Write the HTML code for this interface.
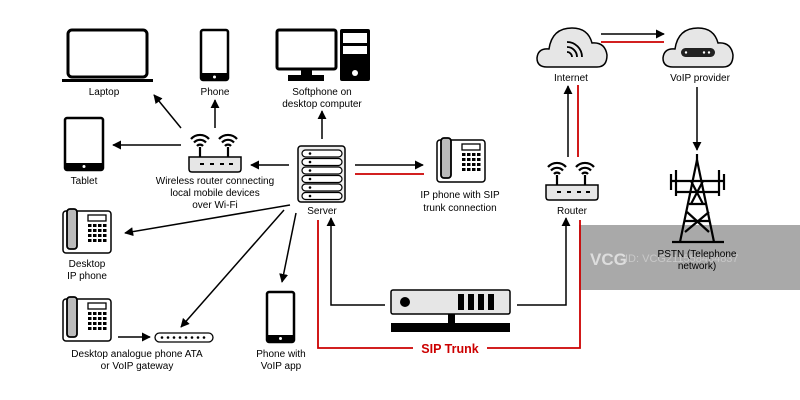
<!DOCTYPE html>
<html><head><meta charset="utf-8"><style>
html,body{margin:0;padding:0;background:#fff;}
svg{display:block;font-family:"Liberation Sans",Arial,sans-serif;}
</style></head><body>
<svg width="800" height="400" viewBox="0 0 800 400" xmlns="http://www.w3.org/2000/svg">
<defs>
<marker id="ah" viewBox="0 0 10 10" refX="9" refY="5" markerWidth="6" markerHeight="6" orient="auto"><path d="M0,0 L10,5 L0,10 z" fill="#000"/></marker>
<g id="deskphone">
<rect x="1" y="1" width="48" height="42" rx="3" fill="#fff" stroke="#000" stroke-width="1.5"/>
<rect x="5" y="-1" width="10" height="40" rx="3" fill="#bbb" stroke="#000" stroke-width="1.8"/>
<rect x="26" y="5" width="18" height="6" fill="#fff" stroke="#000" stroke-width="1.3"/>
<g fill="#000">
<rect x="26" y="14" width="3.5" height="3"/><rect x="31" y="14" width="3.5" height="3"/><rect x="36" y="14" width="3.5" height="3"/><rect x="41" y="14" width="3.5" height="3"/>
<rect x="26" y="19" width="3.5" height="3"/><rect x="31" y="19" width="3.5" height="3"/><rect x="36" y="19" width="3.5" height="3"/><rect x="41" y="19" width="3.5" height="3"/>
<rect x="26" y="24" width="3.5" height="3"/><rect x="31" y="24" width="3.5" height="3"/><rect x="36" y="24" width="3.5" height="3"/><rect x="41" y="24" width="3.5" height="3"/>
<rect x="26" y="29" width="3.5" height="3"/><rect x="31" y="29" width="3.5" height="3"/><rect x="36" y="29" width="3.5" height="3"/><rect x="41" y="29" width="3.5" height="3"/>
</g>
</g>
<g id="wifi" fill="none" stroke="#000" stroke-width="2.2">
<path d="M-9,-4 A12,12 0 0 1 9,-4"/><path d="M-6,-0.5 A8,8 0 0 1 6,-0.5"/><path d="M-3,3 A4,4 0 0 1 3,3"/>
<line x1="0" y1="4" x2="0" y2="14"/>
</g>
<g id="router">
<use href="#wifi" x="12" y="0"/><use href="#wifi" x="40" y="0"/>
<path d="M1,14 H53 V26 Q53,29 50,29 H4 Q1,29 1,26 Z" fill="#e6e6e6" stroke="#000" stroke-width="1.5"/>
<g stroke="#000" stroke-width="2"><line x1="12" y1="21" x2="16" y2="21"/><line x1="22" y1="21" x2="26" y2="21"/><line x1="32" y1="21" x2="36" y2="21"/><line x1="41" y1="21" x2="45" y2="21"/></g>
</g>
<path id="cloud" d="M10,39 Q0,39 0,30 Q1,20 12,21 Q15,0 35,0 Q51,0 55,15 Q68,14 70,27 Q70,39 60,39 Z" fill="#e6e6e6" stroke="#000" stroke-width="1.5"/>
</defs>

<!-- watermark band -->
<rect x="579" y="225" width="221" height="65" fill="#a9a9a9"/>
<text x="590" y="265" font-size="17" font-weight="bold" fill="#ddd">VCG</text>
<text x="625" y="262" font-size="11" fill="#c8c8c8">ID: VCG211558464837</text>

<!-- Laptop -->
<rect x="68" y="30" width="79" height="47" rx="4" fill="#fff" stroke="#000" stroke-width="3"/>
<rect x="62" y="79" width="91" height="3" fill="#000"/>
<text x="104" y="95" font-size="10" text-anchor="middle">Laptop</text>
<!-- Phone -->
<rect x="201" y="30" width="27" height="50" rx="2" fill="#fff" stroke="#000" stroke-width="2.5"/>
<rect x="201" y="73" width="27" height="7" fill="#000"/><circle cx="214.5" cy="77" r="1.5" fill="#fff"/>
<text x="215" y="95" font-size="10" text-anchor="middle">Phone</text>
<!-- Desktop -->
<rect x="277" y="30" width="59" height="39" rx="2" fill="#fff" stroke="#000" stroke-width="3"/>
<rect x="301" y="69" width="11" height="6" fill="#000"/><rect x="288" y="75" width="36" height="6" fill="#000"/>
<rect x="340" y="29" width="30" height="52" rx="2" fill="#000"/>
<rect x="343" y="33" width="24" height="10" fill="#fff"/><rect x="343" y="46" width="24" height="8" fill="#fff"/>
<circle cx="355" cy="73" r="3" fill="#fff"/>
<text x="322" y="95" font-size="10" text-anchor="middle">Softphone on</text>
<text x="322" y="107" font-size="10" text-anchor="middle">desktop computer</text>
<!-- Tablet -->
<rect x="65" y="118" width="38" height="52" rx="2" fill="#fff" stroke="#000" stroke-width="2.5"/>
<rect x="65" y="163" width="38" height="7" fill="#000"/><circle cx="84" cy="166.5" r="1.5" fill="#fff"/>
<text x="84" y="184" font-size="10" text-anchor="middle">Tablet</text>
<!-- Wireless router -->
<use href="#router" x="188" y="143"/>
<text x="215" y="184" font-size="10" text-anchor="middle">Wireless router connecting</text>
<text x="215" y="196" font-size="10" text-anchor="middle">local mobile devices</text>
<text x="215" y="208" font-size="10" text-anchor="middle">over Wi-Fi</text>
<!-- Server -->
<rect x="298" y="146" width="47" height="56" rx="3" fill="#eee" stroke="#000" stroke-width="1.5"/>
<g fill="#fff" stroke="#000" stroke-width="1.2">
<rect x="302" y="150" width="40" height="7" rx="3.5"/><rect x="302" y="158.5" width="40" height="7" rx="3.5"/><rect x="302" y="167" width="40" height="7" rx="3.5"/><rect x="302" y="175.5" width="40" height="7" rx="3.5"/><rect x="302" y="184" width="40" height="7" rx="3.5"/><rect x="302" y="192.5" width="40" height="7" rx="3.5"/>
</g>
<g fill="#000"><circle cx="310" cy="153.5" r="1.3"/><circle cx="310" cy="162" r="1.3"/><circle cx="310" cy="170.5" r="1.3"/><circle cx="310" cy="179" r="1.3"/><circle cx="310" cy="187.5" r="1.3"/><circle cx="310" cy="196" r="1.3"/></g>
<text x="322" y="214" font-size="10" text-anchor="middle">Server</text>
<!-- IP phone -->
<use href="#deskphone" x="436" y="139"/>
<text x="460" y="198" font-size="10" text-anchor="middle">IP phone with SIP</text>
<text x="460" y="211" font-size="10" text-anchor="middle">trunk connection</text>
<!-- Clouds -->
<use href="#cloud" x="537" y="28"/>
<g fill="none" stroke="#000" stroke-width="1.8"><path d="M567,42 A15,15 0 0 1 582,57"/><path d="M567,47 A10,10 0 0 1 577,57"/><path d="M567,52 A5,5 0 0 1 572,57"/></g>
<text x="571" y="81" font-size="10" text-anchor="middle">Internet</text>
<use href="#cloud" x="663" y="28"/>
<rect x="681" y="48" width="34" height="9" rx="4.5" fill="#222"/>
<g fill="#fff"><circle cx="686" cy="52.5" r="1.2"/><circle cx="704" cy="52.5" r="1.2"/><circle cx="709" cy="52.5" r="1.2"/></g>
<text x="700" y="81" font-size="10" text-anchor="middle">VoIP provider</text>
<!-- Router right -->
<use href="#router" x="545" y="171"/>
<text x="572" y="214" font-size="10" text-anchor="middle">Router</text>
<!-- Tower -->
<g stroke="#000" stroke-width="2.2" fill="none">
<path d="M697,160 L680,242 M697,160 L714,242"/>
<line x1="672" y1="242" x2="724" y2="242"/>
<line x1="676" y1="170" x2="676" y2="196"/><line x1="719" y1="170" x2="719" y2="196"/>
<line x1="671" y1="174" x2="671" y2="190"/><line x1="724" y1="174" x2="724" y2="190"/>
<line x1="671" y1="181" x2="724" y2="181"/><line x1="676" y1="192" x2="719" y2="192"/>
<path d="M691,181 L703,204 M703,181 L691,204 M689,204 H706 M687,212 L709,232 M709,212 L685,232 M685,221 H710"/>
<line x1="697" y1="154" x2="697" y2="162"/>
</g>
<text x="697" y="257" font-size="10" text-anchor="middle">PSTN (Telephone</text>
<text x="697" y="269" font-size="10" text-anchor="middle">network)</text>
<!-- Desktop IP phone -->
<use href="#deskphone" x="62" y="210"/>
<text x="87" y="267" font-size="10" text-anchor="middle">Desktop</text>
<text x="87" y="279" font-size="10" text-anchor="middle">IP phone</text>
<!-- Desktop analogue phone -->
<use href="#deskphone" x="62" y="298"/>
<rect x="155" y="333" width="58" height="9" rx="4.5" fill="#fff" stroke="#000" stroke-width="1.3"/>
<g fill="#000"><circle cx="162" cy="337.5" r="1.3"/><circle cx="168" cy="337.5" r="1.3"/><circle cx="174" cy="337.5" r="1.3"/><circle cx="180" cy="337.5" r="1.3"/><circle cx="186" cy="337.5" r="1.3"/><circle cx="192" cy="337.5" r="1.3"/><circle cx="198" cy="337.5" r="1.3"/><circle cx="204" cy="337.5" r="1.3"/></g>
<text x="137" y="357" font-size="10" text-anchor="middle">Desktop analogue phone ATA</text>
<text x="137" y="369" font-size="10" text-anchor="middle">or VoIP gateway</text>
<!-- Phone with VoIP app -->
<rect x="267" y="292" width="27" height="50" rx="2" fill="#fff" stroke="#000" stroke-width="2.5"/>
<rect x="267" y="335" width="27" height="7" fill="#000"/><circle cx="280.5" cy="338.5" r="1.5" fill="#fff"/>
<text x="281" y="357" font-size="10" text-anchor="middle">Phone with</text>
<text x="281" y="369" font-size="10" text-anchor="middle">VoIP app</text>
<!-- Bottom device -->
<rect x="391" y="290" width="119" height="24" rx="2" fill="#e6e6e6" stroke="#000" stroke-width="1.5"/>
<circle cx="405" cy="302" r="5" fill="#000"/>
<g fill="#000"><rect x="458" y="294" width="6" height="16"/><rect x="468" y="294" width="6" height="16"/><rect x="478" y="294" width="6" height="16"/><rect x="488" y="294" width="6" height="16"/></g>
<rect x="448" y="314" width="7" height="9" fill="#000"/>
<rect x="391" y="323" width="119" height="9" fill="#000"/>

<!-- Arrows black -->
<g stroke="#000" stroke-width="1.5" fill="none" marker-end="url(#ah)">
<line x1="181" y1="128" x2="154" y2="95"/>
<line x1="215" y1="128" x2="215" y2="100"/>
<line x1="181" y1="145" x2="113" y2="145"/>
<line x1="289" y1="165" x2="251" y2="165"/>
<line x1="322" y1="139" x2="322" y2="111"/>
<line x1="355" y1="165" x2="423" y2="165"/>
<line x1="601" y1="34" x2="664" y2="34"/>
<line x1="568" y1="157" x2="568" y2="86"/>
<line x1="697" y1="87" x2="697" y2="150"/>
<line x1="290" y1="205" x2="125" y2="233"/>
<line x1="284" y1="210" x2="181" y2="327"/>
<line x1="296" y1="213" x2="282" y2="282"/>
<line x1="118" y1="337" x2="150" y2="337"/>
<path d="M385,305 H331 V218"/>
<path d="M517,305 H566 V218"/>
</g>
<!-- Red lines -->
<g stroke="#c00" stroke-width="1.8" fill="none">
<line x1="355" y1="174" x2="424" y2="174"/>
<line x1="601" y1="42" x2="664" y2="42"/>
<line x1="578" y1="85" x2="578" y2="157"/>
<path d="M318,220 V348 H413"/>
<path d="M487,348 H580 V220"/>
</g>
<text x="450" y="353" font-size="12.5" font-weight="bold" fill="#c00" text-anchor="middle">SIP Trunk</text>
</svg>
</body></html>
